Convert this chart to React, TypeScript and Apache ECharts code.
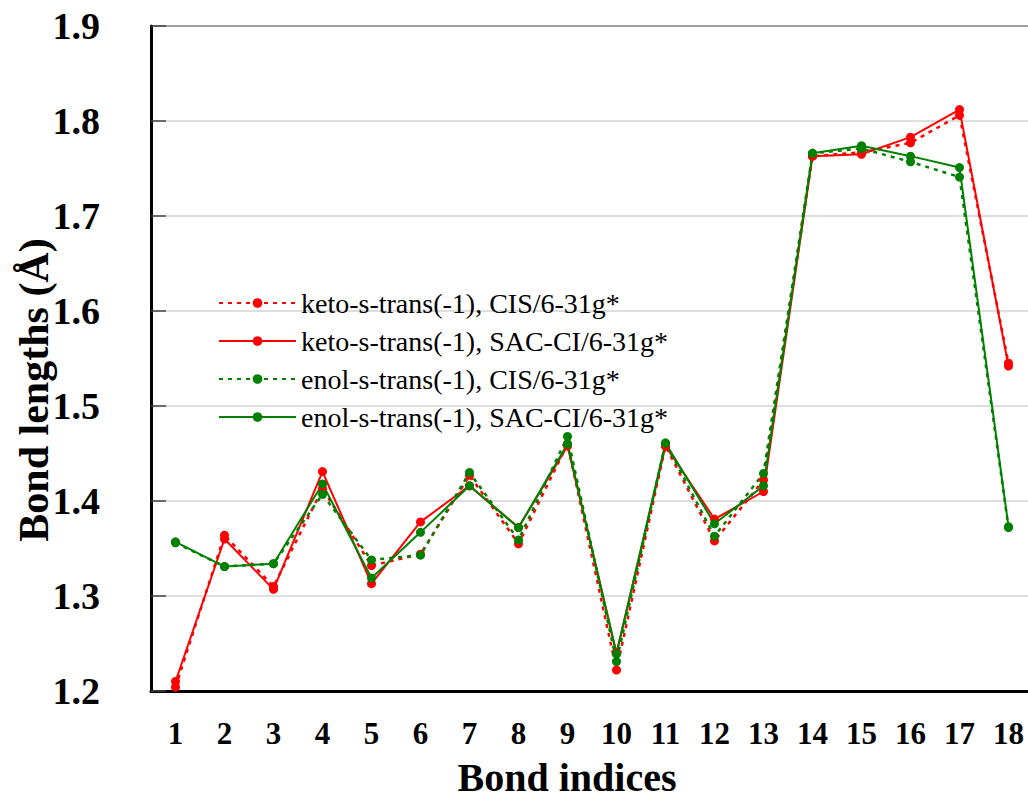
import React, { useEffect, useRef } from "react";
import * as echarts from "echarts";

const bondIndices = ["1","2","3","4","5","6","7","8","9","10","11","12","13","14","15","16","17","18"];
const ketoCIS = [1.204,1.364,1.310,1.413,1.332,1.344,1.427,1.355,1.460,1.222,1.458,1.358,1.422,1.763,1.767,1.777,1.806,1.545];
const ketoSAC = [1.210,1.360,1.307,1.431,1.313,1.378,1.416,1.372,1.458,1.240,1.458,1.381,1.410,1.763,1.765,1.783,1.812,1.542];
const enolCIS = [1.356,1.331,1.334,1.407,1.338,1.343,1.430,1.359,1.468,1.231,1.461,1.363,1.429,1.766,1.771,1.757,1.741,1.372];
const enolSAC = [1.357,1.331,1.334,1.418,1.319,1.367,1.416,1.372,1.460,1.239,1.461,1.376,1.416,1.766,1.774,1.763,1.751,1.373];
const seriesNames = [
  "keto-s-trans(-1), CIS/6-31g*",
  "keto-s-trans(-1), SAC-CI/6-31g*",
  "enol-s-trans(-1), CIS/6-31g*",
  "enol-s-trans(-1), SAC-CI/6-31g*",
];
const xTitle = "Bond indices";
const yTitle = "Bond lengths (Å)";

const FONT = "'Liberation Serif', 'Times New Roman', serif";

export default function App() {
  const ref = useRef<HTMLDivElement>(null);
  useEffect(() => {
    if (!ref.current) return;
    const chart = echarts.init(ref.current, null, { renderer: "svg" });
    const mk = (name: string, data: number[], color: string, dashed: boolean) => ({
      name,
      type: "line",
      data,
      symbol: "circle",
      symbolSize: 9,
      itemStyle: { color },
      lineStyle: { color, width: dashed ? 2.5 : 2, type: dashed ? [4, 5] : "solid" },
      z: 2,
    });
    chart.setOption({
      animation: false,
      backgroundColor: "#ffffff",
      textStyle: { fontFamily: FONT },
      grid: {
        left: 151,
        right: -5,
        top: 26,
        bottom: 109,
        outerBoundsMode: "none",
        containLabel: false,
        show: true,
        borderColor: "#000",
        borderWidth: 2,
        backgroundColor: "transparent",
      },
      legend: {
        left: 213,
        top: 284,
        orient: "vertical",
        itemWidth: 77,
        itemHeight: 12,
        itemGap: 10,
        textStyle: { fontFamily: FONT, fontSize: 28, color: "#000", lineHeight: 28 },
        data: seriesNames,
      },
      graphic: [
        {
          type: "text",
          x: 567,
          y: 777,
          style: {
            text: xTitle,
            font: `bold 40px ${FONT}`,
            fill: "#000",
            align: "center",
            verticalAlign: "middle",
          },
        },
        {
          type: "text",
          x: 34,
          y: 390,
          rotation: Math.PI / 2,
          style: {
            text: yTitle,
            font: `bold 42px ${FONT}`,
            fill: "#000",
            align: "center",
            verticalAlign: "middle",
          },
        },
      ],
      xAxis: {
        type: "category",
        data: bondIndices,
        boundaryGap: true,
        axisLine: { lineStyle: { color: "#000", width: 3 } },
        axisTick: { inside: true, length: 10, lineStyle: { color: "#555", width: 1.5 } },
        axisLabel: {
          fontFamily: FONT,
          fontSize: 31,
          fontWeight: "bold",
          color: "#000",
          margin: 27,
        },
        splitLine: { show: false },
      },
      yAxis: {
        type: "value",
        min: 1.2,
        max: 1.9,
        interval: 0.1,
        axisLine: { show: true, lineStyle: { color: "#000", width: 3 } },
        axisTick: { show: true, inside: true, length: 15, lineStyle: { color: "#444", width: 1.5 } },
        axisLabel: {
          fontFamily: FONT,
          fontSize: 38,
          fontWeight: "bold",
          color: "#000",
          margin: 51,
          formatter: (v: number) => v.toFixed(1),
        },
        splitLine: { show: true, lineStyle: { color: "#d3d3d3", width: 1.5 } },
      },
      series: [
        mk(seriesNames[0], ketoCIS, "#ff0000", true),
        mk(seriesNames[1], ketoSAC, "#ff0000", false),
        mk(seriesNames[2], enolCIS, "#008000", true),
        mk(seriesNames[3], enolSAC, "#008000", false),
      ],
    });
    return () => chart.dispose();
  }, []);
  return (
    <div
      ref={ref}
      style={{ position: "fixed", left: 0, top: 0, width: 1028, height: 800, background: "#fff" }}
    />
  );
}
